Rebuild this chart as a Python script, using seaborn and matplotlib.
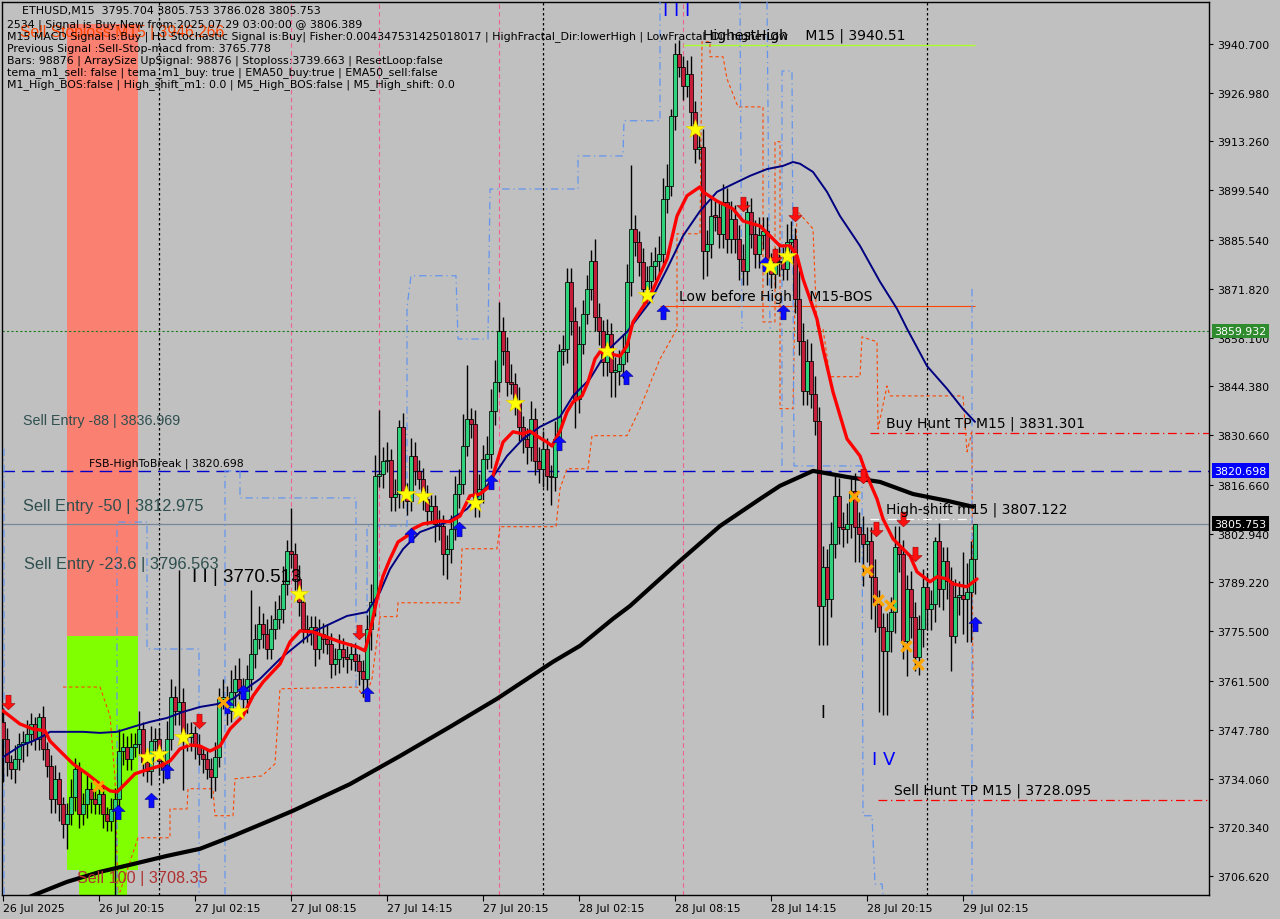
import matplotlib
matplotlib.use("Agg")
import matplotlib.pyplot as plt
import matplotlib.transforms as mtransforms
from matplotlib.path import Path
import numpy as np
import seaborn as sns

# ETHUSD M15 -- bar 0 is 26 Jul 2025 14:15, one bar every 15 minutes
first_open = 3750.0
closes = [
    3745.2, 3738.8, 3736.8, 3739.6, 3743.8, 3744.4, 3746.6, 3749.5, 3745.2, 3751.4,
    3742.4, 3737.6, 3728.4, 3734.0, 3727.0, 3721.3, 3724.1, 3728.9, 3736.8, 3724.1,
    3727.0, 3731.2, 3728.4, 3727.0, 3729.8, 3724.1, 3722.2, 3725.5, 3728.4, 3741.9,
    3743.0, 3739.6, 3743.0, 3743.8, 3748.1, 3738.8, 3736.2, 3744.7, 3745.2, 3739.0,
    3736.8, 3745.2, 3757.1, 3753.1, 3755.6, 3745.8, 3745.8, 3746.9, 3743.5, 3741.0,
    3739.6, 3736.8, 3734.5, 3740.2, 3756.5, 3757.1, 3753.1, 3758.5, 3762.1, 3759.3,
    3756.5, 3762.1, 3769.1, 3773.4, 3777.6, 3774.8, 3770.6, 3776.2, 3779.0, 3781.8,
    3788.8, 3798.1, 3797.3, 3790.2, 3783.8, 3776.2, 3775.6, 3776.7, 3770.6, 3774.8,
    3773.4, 3772.0, 3766.3, 3767.7, 3770.6, 3768.3, 3767.7, 3769.1, 3767.2, 3764.4,
    3762.1, 3776.2, 3783.8, 3819.2, 3819.8, 3823.4, 3823.7, 3813.3, 3814.2, 3833.0,
    3814.2, 3812.2, 3824.8, 3820.6, 3818.4, 3812.7, 3809.4, 3810.8, 3805.7, 3805.1,
    3797.3, 3798.6, 3804.3, 3814.2, 3817.0, 3827.7, 3835.3, 3833.8, 3812.7, 3815.6,
    3824.0, 3825.4, 3837.5, 3845.7, 3860.0, 3854.4, 3845.7, 3845.1, 3840.3, 3833.0,
    3829.6, 3827.4, 3835.3, 3823.4, 3821.2, 3826.8, 3819.2, 3818.9, 3829.6, 3854.4,
    3854.9, 3873.8, 3862.8, 3840.8, 3856.4, 3864.8, 3871.8, 3879.7, 3863.9, 3860.0,
    3851.3, 3859.2, 3848.5, 3848.7, 3850.7, 3854.1, 3873.8, 3888.7, 3885.0, 3879.4,
    3871.8, 3874.1, 3878.3, 3879.7, 3881.7, 3897.1, 3900.8, 3920.5, 3937.9, 3934.3,
    3928.9, 3932.3, 3921.6, 3911.2, 3911.7, 3882.5, 3884.5, 3892.4, 3892.1, 3887.3,
    3896.3, 3885.9, 3891.5, 3885.9, 3880.3, 3876.9, 3893.5, 3887.3, 3881.7, 3887.0,
    3888.1, 3878.9, 3876.0, 3879.4, 3879.7, 3877.4, 3885.0, 3885.9, 3869.0, 3857.2,
    3843.1, 3851.6, 3842.3, 3834.7, 3782.7, 3793.6, 3784.6, 3800.1, 3813.6, 3804.9,
    3804.3, 3805.7, 3815.0, 3804.9, 3802.9, 3800.1, 3800.9, 3790.8, 3783.2, 3776.7,
    3770.0, 3775.6, 3781.0, 3799.2, 3797.3, 3772.8, 3787.4, 3779.6, 3768.3, 3776.2,
    3788.0, 3781.8, 3783.2, 3800.9, 3787.4, 3795.3, 3789.7, 3774.2, 3785.2, 3785.7,
    3784.6, 3786.6, 3795.9, 3805.753,
]
upper_wick = [
    4, 3, 2, 4, 3, 3, 4, 3, 2, 1,
    3, 2, 3, 4, 2, 2, 3, 5, 3, 2,
    3, 4, 2, 3, 3, 2, 2, 3, 3, 6,
    4, 3, 4, 3, 5, 2, 3, 4, 3, 3,
    3, 5, 5, 3, 37, 4, 4, 3, 2, 3,
    2, 3, 3, 4, 3, 5, 3, 6, 4, 6,
    3, 4, 18, 4, 5, 3, 4, 4, 5, 4,
    5, 3, 12, 3, 4, 3, 4, 3, 3, 4,
    3, 4, 3, 3, 4, 3, 3, 3, 3, 2,
    3, 4, 5, 6, 18, 4, 5, 3, 4, 2,
    4, 3, 5, 4, 3, 3, 4, 3, 3, 4,
    3, 4, 4, 5, 4, 9, 15, 3, 4, 4,
    4, 5, 6, 6, 8, 4, 4, 5, 3, 4,
    3, 3, 5, 3, 4, 5, 3, 3, 5, 2,
    4, 4, 4, 4, 5, 4, 4, 3, 6, 4,
    3, 4, 3, 4, 4, 5, 5, 18, 4, 3,
    4, 4, 4, 4, 5, 6, 6, 2, 3, 4,
    3, 4, 5, 3, 4, 5, 4, 5, 4, 4,
    5, 4, 5, 4, 4, 4, 3, 4, 4, 5,
    4, 4, 3, 4, 5, 4, 5, 5, 3, 8,
    5, 6, 5, 5, 4, 6, 5, 6, 6, 5,
    4, 6, 4, 5, 4, 5, 4, 4, 5, 4,
    4, 5, 4, 6, 6, 4, 4, 5, 4, 4,
    5, 4, 4, 1, 5, 4, 4, 4, 5, 4,
    12, 8, 5, 0,
]
lower_wick = [
    12, 4, 3, 4, 3, 5, 4, 3, 3, 3,
    3, 3, 4, 4, 5, 4, 7, 3, 4, 4,
    3, 4, 4, 3, 3, 4, 3, 3, 25, 4,
    4, 3, 3, 3, 3, 4, 3, 4, 3, 4,
    4, 3, 3, 4, 4, 15, 4, 4, 4, 3,
    4, 3, 6, 4, 3, 3, 4, 3, 4, 3,
    3, 4, 3, 4, 3, 4, 3, 3, 3, 3,
    4, 3, 4, 3, 4, 4, 3, 4, 5, 3,
    4, 3, 4, 3, 4, 3, 4, 3, 3, 4,
    5, 4, 6, 4, 3, 4, 3, 4, 4, 4,
    4, 4, 3, 4, 3, 3, 4, 3, 5, 4,
    6, 7, 4, 3, 4, 3, 3, 4, 5, 5,
    4, 3, 4, 4, 3, 4, 4, 3, 4, 4,
    4, 5, 4, 4, 4, 5, 4, 8, 4, 3,
    4, 4, 4, 8, 4, 3, 3, 3, 4, 4,
    4, 4, 7, 7, 4, 4, 3, 4, 4, 4,
    4, 4, 4, 4, 4, 3, 4, 3, 4, 3,
    4, 3, 4, 4, 3, 8, 7, 4, 4, 4,
    4, 4, 4, 4, 6, 4, 4, 4, 4, 4,
    4, 6, 4, 4, 4, 3, 3, 3, 4, 4,
    4, 4, 4, 4, 11, 11, 13, 5, 4, 5,
    5, 4, 4, 10, 8, 12, 5, 12, 8, 24,
    18, 18, 6, 6, 5, 5, 10, 6, 4, 5,
    5, 6, 6, 5, 5, 6, 5, 10, 2, 5,
    10, 12, 14, 10,
]

# indicator lines, (bar, price)
ema_fast = [
    (0, 3753.1), (4.25, 3749.4), (7.5, 3748.0), (10.5, 3747.5), (11.75, 3744.6),
    (14.25, 3741.8), (17.5, 3738.2), (21, 3735.4), (24.25, 3732.5), (26.75, 3730.6),
    (28.5, 3730.3), (30.5, 3732.5), (33, 3735.4), (36.75, 3736.8), (39.25, 3737.6),
    (41.75, 3739.0), (44.25, 3742.4), (46.75, 3743.5), (49.25, 3743.2), (51.75, 3741.8),
    (54.25, 3743.2), (56.75, 3748.0), (60, 3751.7), (62.5, 3757.3), (65, 3761.2),
    (69.25, 3766.3), (71.75, 3772.5), (74.25, 3775.6), (77.5, 3775.3), (84.25, 3772.5),
    (88.5, 3771.1), (90.5, 3770.0), (91.75, 3775.3), (93.5, 3784.6), (95, 3791.0),
    (96.75, 3795.8), (98.75, 3800.6), (101, 3802.3), (102.5, 3804.3), (105, 3805.7),
    (109.25, 3806.5), (111.75, 3806.3), (114.25, 3807.9), (116.75, 3813.6), (119.25, 3814.1),
    (121.75, 3816.4), (123.5, 3823.1), (125, 3828.7), (127.5, 3831.6), (130, 3831.0),
    (131.75, 3831.8), (133.5, 3830.4), (136, 3828.7), (137.25, 3827.6), (139.25, 3831.8),
    (141, 3837.2), (142.5, 3840.0), (144.75, 3841.7), (146.25, 3845.6), (148, 3852.1),
    (149.25, 3854.1), (151.75, 3853.5), (154.25, 3852.9), (156, 3855.8), (157.5, 3862.5),
    (161.75, 3869.8), (166, 3880.2), (168.5, 3892.3), (171, 3898.0), (174.25, 3900.5),
    (175, 3899.1), (178.5, 3896.5), (182.5, 3894.3), (185, 3890.9), (189.25, 3889.5),
    (191.75, 3886.7), (194.25, 3883.9), (196.75, 3883.9), (198.5, 3881.1), (200, 3874.6),
    (201.75, 3869.0), (203.5, 3863.3), (205, 3854.9), (207.5, 3842.8), (211, 3829.6),
    (214.25, 3824.8), (216, 3819.2), (218.5, 3812.7), (220, 3807.1), (222.5, 3801.5),
    (224.25, 3799.5), (226.75, 3796.7), (228.5, 3792.2), (231.75, 3789.4), (233.5, 3790.8),
    (236, 3790.2), (237.5, 3788.8), (241, 3788.0), (243.5, 3790.2),
]
ema_50 = [
    (0, 3740.1), (4.25, 3743.2), (7.5, 3744.6), (10, 3746.0), (11.75, 3747.2),
    (16, 3747.2), (20, 3747.2), (24.25, 3746.9), (28.5, 3747.2), (32.5, 3748.6),
    (36.75, 3750.0), (41, 3751.1), (45, 3752.8), (49.25, 3754.2), (53.5, 3755.0),
    (57.5, 3756.5), (61.75, 3760.1), (64.25, 3762.1), (69.25, 3767.7), (77.5, 3775.3),
    (86, 3779.8), (91, 3780.9), (94.25, 3786.5), (96.75, 3793.0), (100, 3798.6),
    (104.25, 3803.4), (111, 3806.2), (116, 3809.9), (121, 3816.4), (126, 3824.8),
    (130, 3829.6), (134.25, 3833.0), (139.25, 3835.8), (142.5, 3841.7), (146.75, 3846.5),
    (151, 3854.3), (156, 3859.7), (161.75, 3868.1), (166, 3877.4), (170, 3886.7),
    (174.25, 3893.7), (178.5, 3899.1), (182.5, 3901.3), (186.75, 3903.6), (191, 3905.5),
    (195, 3906.4), (197.5, 3907.5), (199.25, 3907.0), (202.5, 3904.7), (206, 3899.1),
    (209.25, 3892.3), (214.25, 3883.9), (219.25, 3873.8), (223.5, 3866.2), (226, 3860.6),
    (231, 3850.1), (236, 3843.7), (240, 3838.0), (243, 3834.4),
]
ema_200 = [
    (6, 3700.5), (16, 3705.0), (24.25, 3707.8), (32.5, 3710.0), (41, 3712.3),
    (49.25, 3714.3), (57.5, 3717.9), (66, 3721.9), (72.5, 3725.0), (86.75, 3732.5),
    (99.25, 3740.4), (111.75, 3748.6), (123.5, 3756.5), (137.5, 3766.9), (144.25, 3771.4),
    (152.5, 3779.0), (156.75, 3782.6), (169.25, 3795.3), (179.25, 3805.1), (189.25, 3812.7),
    (194.25, 3816.4), (202.5, 3820.6), (211, 3818.9), (219.25, 3817.5), (227.5, 3814.1),
    (236, 3812.2), (242.5, 3810.5),
]
lower_band = [
    (15, 3759.8), (24.25, 3759.8), (26.75, 3751.7), (28, 3734.0), (28.75, 3702.2),
    (29.25, 3702.2), (33.75, 3717.4), (41.75, 3717.4), (41.75, 3725.5), (46, 3725.5),
    (46.25, 3731.2), (52.5, 3731.2), (53, 3723.6), (57.5, 3723.6), (58, 3734.0),
    (64.75, 3734.8), (68, 3738.2), (69.25, 3759.3), (88.5, 3759.8), (90.5, 3756.5),
    (92.25, 3762.1), (94.25, 3779.6), (98.5, 3779.6), (98.75, 3783.5), (114.25, 3783.5),
    (114.75, 3798.7), (123.5, 3798.7), (124.25, 3804.9), (138.25, 3804.9), (139.25, 3815.6),
    (141, 3821.2), (146.25, 3821.2), (147.25, 3830.5), (156, 3830.5), (159.25, 3838.1),
    (164.25, 3852.1), (168.5, 3860.6), (168.5, 3887.3), (174.25, 3887.3), (174.75, 3941.3),
    (176.75, 3941.3), (176.75, 3937.1), (180, 3937.1), (181, 3930.9), (183.75, 3923.0),
    (190, 3923.0), (190, 3862.5), (193, 3862.5), (193, 3913.2), (194.25, 3913.2),
    (194.25, 3838.1), (197.5, 3838.1), (198, 3869.0), (198.5, 3893.8), (202.5, 3888.7),
    (203.5, 3860.6), (205, 3860.6), (206.75, 3847.1), (214.25, 3847.1), (214.75, 3858.3),
    (218.5, 3856.9), (218.75, 3832.4), (221, 3844.5), (221.75, 3841.7), (240, 3841.7),
    (241, 3826.0), (242.25, 3831.6), (242.5, 3750.9),
]
GAP = (np.nan, np.nan)
upper_band = [
    (0.25, 3701.4), (0.25, 3826.8), GAP,
    (28.5, 3701.4), (28.5, 3806.2), (36, 3806.2), (36, 3770.5), (49, 3770.5), (49, 3701.4), GAP,
    (55.5, 3701.4), (55.5, 3820.6), (59.25, 3820.6), (59.25, 3813.0), (88.25, 3813.0),
    (88.25, 3759.3), GAP,
    (91, 3756.5), (91, 3805.1), (101, 3805.1), (101, 3866.7), (102, 3875.5), (113.25, 3875.5),
    (113.75, 3857.7), (121.25, 3857.7), (121.75, 3899.9), (143.75, 3899.9), (143.75, 3909.2),
    (155, 3909.2), (155.25, 3919.1), (164.25, 3919.1), (164.25, 3952.5), GAP,
    (184.25, 3952.5), (184.75, 3860.6), GAP,
    (191, 3952.5), (191.75, 3860.6), GAP,
    (194.75, 3822.0), (194.75, 3933.1), (197.25, 3933.1), (197.75, 3822.0), (214.75, 3822.0),
    (215, 3723.6), (217.25, 3723.6), (218, 3704.4), (219.75, 3704.4), (220, 3701.4), GAP,
    (242.25, 3871.8), (242.25, 3701.4),
]

# signal marks, (bar, price)
stars = [(36, 3740.2), (39, 3741.0), (45, 3745.8), (58.75, 3753.1), (74, 3786.0),
         (100.75, 3814.1), (105, 3813.6), (118, 3811.6), (128, 3839.7), (151, 3854.3),
         (161, 3870.1), (173, 3916.8), (191.75, 3878.3), (196, 3881.1)]
crosses = [(23.75, 3732.0), (55, 3755.6), (212.75, 3813.6), (216, 3792.7),
           (218.75, 3784.3), (221.75, 3782.9), (225.75, 3771.4), (228.75, 3766.3)]
buy_arrows = [(28.75, 3724.7), (37, 3728.0), (41, 3736.2), (56, 3754.5), (60, 3758.4),
              (91, 3757.9), (102, 3802.6), (114, 3804.3), (122, 3817.5), (139, 3828.5),
              (155.75, 3847.0), (165, 3865.3), (190.5, 3878.8), (195, 3865.3), (243, 3777.5)]
sell_arrows = [(1.25, 3755.6), (49, 3750.3), (89, 3775.3), (185, 3895.7), (198, 3892.9),
               (193, 3881.1), (215, 3819.2), (218.25, 3804.3), (225, 3807.1), (228, 3797.2)]

day_breaks = [39, 135, 231]
session_marks = [72, 94, 124, 170]

# price levels
level_green = 3859.932
fsb_high = 3820.698
last_close = 3805.753
buy_hunt_tp = 3831.301
sell_hunt_tp = 3728.095
high_shift = 3807.122
low_before_high = 3867.0
highest_high = 3940.51
sell_stoploss = 3946.266
sell_100 = 3708.35
zone_split = 3774.2

xtick_bars = [0, 24, 48, 72, 96, 120, 144, 168, 192, 216, 240]
xtick_labels = ["26 Jul 2025", "26 Jul 20:15", "27 Jul 02:15", "27 Jul 08:15",
                "27 Jul 14:15", "27 Jul 20:15", "28 Jul 02:15", "28 Jul 08:15",
                "28 Jul 14:15", "28 Jul 20:15", "29 Jul 02:15"]
ytick_labels = ["3940.700", "3926.980", "3913.260", "3899.540", "3885.540", "3871.820",
                "3858.100", "3844.380", "3830.660", "3816.660", "3802.940", "3789.220",
                "3775.500", "3761.500", "3747.780", "3734.060", "3720.340", "3706.620"]

info_lines = [
    "ETHUSD,M15  3795.704 3805.753 3786.028 3805.753",
    "2534 | Signal is Buy-New from:2025.07.29 03:00:00 @ 3806.389",
    "M15 MACD Signal is:Buy | H1 Stochastic Signal is:Buy| Fisher:0.004347531425018017 | "
    "HighFractal_Dir:lowerHigh | LowFractal_Dir:higherLow",
    "Previous Signal :Sell-Stop-macd from: 3765.778",
    "Bars: 98876 | ArraySize UpSignal: 98876 | Stoploss:3739.663 | ResetLoop:false",
    "tema_m1_sell: false | tema_m1_buy: true | EMA50_buy:true | EMA50_sell:false",
    "M1_High_BOS:false | High_shift_m1: 0.0 | M5_High_BOS:false | M5_High_shift: 0.0",
]

# ------------------------------------------------------------------
sns.set_theme(style="white")
plt.rcParams["font.family"] = ["DejaVu Sans"]
BG = "#C0C0C0"
W, H = 1280, 920

fig = plt.figure(figsize=(12.8, 9.2), dpi=100, facecolor=BG)
ax = fig.add_axes([2 / W, 24 / H, 1207 / W, 893 / H])
ax.set_facecolor(BG)
ax.set_xlim(-0.25, 301.5)
ax.set_ylim(3701.3, 3952.5)

# sell zone boxes
ax.fill_between([16, 33.75], zone_split, sell_stoploss, color="#FA8072", lw=0, zorder=1)
ax.fill_between([16, 33.75], sell_100, zone_split, color="#7FFF00", lw=0, zorder=1)
ax.fill_between([19, 31], 3690, sell_100, color="#7FFF00", lw=0, zorder=1)

for b in day_breaks:
    ax.axvline(b, color="black", ls=(0, (2, 2)), lw=0.9, zorder=2)
for b in session_marks:
    ax.axvline(b, color="#F06090", ls=(0, (4, 3)), lw=0.8, zorder=2)

ax.axhline(level_green, color="#1E7B1E", ls=(0, (2, 2)), lw=0.8, zorder=2)
ax.axhline(fsb_high, color="#0000CD", ls=(0, (9, 5)), lw=1.0, zorder=2)
ax.axhline(last_close, color="#778899", lw=0.9, zorder=2)
ax.hlines(buy_hunt_tp, 216.75, 301.5, color="red", ls=(0, (7, 3, 1, 3)), lw=0.9, zorder=2)
ax.hlines(sell_hunt_tp, 218.75, 301.5, color="red", ls=(0, (7, 3, 1, 3)), lw=0.9, zorder=2)
ax.hlines(high_shift, 216.75, 243, color="white", ls=(0, (7, 3, 1, 3)), lw=0.9, zorder=2)
ax.hlines(low_before_high, 164.25, 243, color="#FF4500", lw=0.8, zorder=2)
ax.hlines(highest_high, 170, 243, color="#ADFF2F", lw=1.0, zorder=2)

# channel steps
lb = np.array(lower_band)
ax.plot(lb[:, 0], lb[:, 1], color="#FF4500", ls=(0, (3, 2.5)), lw=0.8, zorder=3)
ub = np.array(upper_band)
ax.plot(ub[:, 0], ub[:, 1], color="#6495ED", ls=(0, (6, 3, 1, 3)), lw=0.9, zorder=3)

# candles
c = np.array(closes)
o = np.concatenate([[first_open], c[:-1]])
hi = np.maximum(o, c) + np.array(upper_wick)
lo = np.minimum(o, c) - np.array(lower_wick)
idx = np.arange(len(c))
ax.vlines(idx, lo, hi, color="black", lw=1.0, zorder=5)
bull = c >= o
ax.bar(idx, np.maximum(np.abs(c - o), 0.35), bottom=np.minimum(o, c), width=0.8,
       color=np.where(bull, "#2ED27A", "#C41E3A"), edgecolor="black", linewidth=0.55, zorder=6)

# moving averages
for pts, col, lw in [(ema_200, "black", 3.0), (ema_50, "#000080", 1.4), (ema_fast, "#FF0000", 2.4)]:
    xs, ys = zip(*pts)
    sns.lineplot(x=list(xs), y=list(ys), ax=ax, color=col, lw=lw, sort=False,
                 estimator=None, zorder=7)

# signal marks
up = [(0, 1), (-0.9, 0.15), (-0.35, 0.15), (-0.35, -1), (0.35, -1), (0.35, 0.15), (0.9, 0.15), (0, 1)]
codes = [Path.MOVETO] + [Path.LINETO] * 6 + [Path.CLOSEPOLY]
up_arrow = Path(up, codes)
down_arrow = Path([(x, -y) for x, y in up], codes)

bx, by = zip(*buy_arrows)
ax.scatter(bx, by, marker=up_arrow, s=110, color="#0A0AFF", edgecolors="#00008B", linewidths=0.4, zorder=9)
sx, sy = zip(*sell_arrows)
ax.scatter(sx, sy, marker=down_arrow, s=110, color="#FF1010", edgecolors="#A00000", linewidths=0.4, zorder=9)
cx, cy = zip(*crosses)
ax.scatter(cx, cy, marker="x", s=55, color="#FFA500", linewidths=2.4, zorder=9)
tx, ty = zip(*stars)
sns.scatterplot(x=list(tx), y=list(ty), marker="*", s=200, color="#FFFF00", edgecolor="#E6C800",
                linewidth=0.4, ax=ax, zorder=10)

# axes, ticks
for sp in ax.spines.values():
    sp.set_color("black")
    sp.set_linewidth(1.0)
ax.yaxis.tick_right()
ax.set_yticks([float(s) for s in ytick_labels])
ax.set_yticklabels(ytick_labels)
ax.set_xticks(xtick_bars)
ax.set_xticklabels(xtick_labels)
ax.tick_params(axis="y", right=True, left=False, labelright=True, labelleft=False,
               direction="out", length=3, width=0.8, pad=3, labelsize=7.9, colors="black")
ax.tick_params(axis="x", bottom=True, direction="out", length=4, width=0.8, pad=1.5,
               labelsize=7.9, colors="black")
for lab in ax.get_xticklabels():
    lab.set_horizontalalignment("left")
ax.set_xlabel("")
ax.set_ylabel("")

# price boxes on the axis
right = mtransforms.blended_transform_factory(ax.transAxes, ax.transData)
for val, face in [(level_green, "#2E8B2E"), (fsb_high, "#0000FF"), (last_close, "black")]:
    ax.text(1.0045, val, f"{val:.3f}", transform=right, color="white", fontsize=7.9,
            ha="left", va="center", zorder=20, clip_on=False,
            bbox=dict(boxstyle="square,pad=0.22", facecolor=face, edgecolor="none"))

# chart labels
LS = ["Liberation Sans", "DejaVu Sans"]
ax.text(4.25, sell_stoploss, "Sell Stoploss M15 | 3946.266", color="#FF4500", fontsize=11.3,
        family=LS, va="top", zorder=11)
ax.text(5, 3836.969, "Sell Entry -88 | 3836.969", color="#2F4F4F", fontsize=10.3, family=LS,
        va="top", zorder=11)
ax.text(5, 3812.975, "Sell Entry -50 | 3812.975", color="#2F4F4F", fontsize=11.8, family=LS,
        va="top", zorder=11)
ax.text(5.25, 3796.563, "Sell Entry -23.6 | 3796.563", color="#2F4F4F", fontsize=11.8,
        family=LS, va="top", zorder=11)
ax.text(21.5, fsb_high + 0.6, "FSB-HighToBreak | 3820.698", color="black", fontsize=7.8,
        va="bottom", zorder=11)
ax.text(18.5, sell_100, "Sell 100 | 3708.35", color="#B03030", fontsize=11.6, family=LS,
        va="top", zorder=11)
ax.text(47.25, 3791.0, "I I | 3770.513", color="black", fontsize=13.5, family=LS,
        va="center", zorder=11)
ax.text(175, highest_high + 0.8, "HighestHigh    M15 | 3940.51", color="black", fontsize=10,
        va="bottom", zorder=11)
ax.text(169, low_before_high + 0.8, "Low before High    M15-BOS", color="black", fontsize=10,
        va="bottom", zorder=11)
ax.text(220.75, buy_hunt_tp + 0.8, "Buy Hunt TP M15 | 3831.301", color="black", fontsize=10,
        va="bottom", zorder=11)
ax.text(220.75, high_shift + 0.8, "High-shift m15 | 3807.122", color="black", fontsize=10,
        va="bottom", zorder=11)
ax.text(222.75, sell_hunt_tp + 0.8, "Sell Hunt TP M15 | 3728.095", color="black", fontsize=10,
        va="bottom", zorder=11)
ax.text(165, 3950.3, "I I I", color="#0000FF", fontsize=13, va="center", zorder=11)
ax.text(217.25, 3739.6, "I V", color="#0000FF", fontsize=13, va="center", zorder=11)
ax.text(204.25, 3752.8, "I", color="black", fontsize=12, va="center", zorder=11)

# info block, top left
for i, line in enumerate(info_lines):
    x_px = 22 if i == 0 else 7
    y_px = [11, 25, 37, 49, 61, 73, 85][i]
    fig.text(x_px / W, 1 - y_px / H, line, fontsize=7.9, color="black", va="center", ha="left")

fig.savefig("out.png", dpi=100, facecolor=BG)
